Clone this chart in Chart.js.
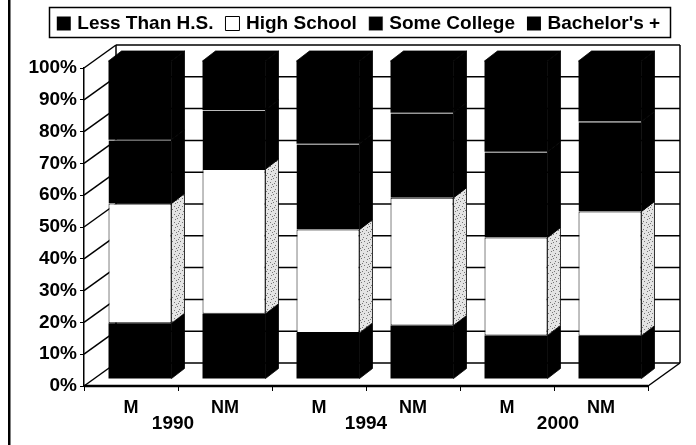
<!DOCTYPE html>
<html>
<head>
<meta charset="utf-8">
<style>
  html, body { margin: 0; padding: 0; background: #fff; }
  #wrap { width: 696px; height: 445px; }
</style>
<script src="https://cdn.jsdelivr.net/npm/chart.js@4"></script>
</head>
<body>
<div id="wrap"><canvas id="eduChart" width="696" height="445"></canvas></div>
<script>
const categories = ['M', 'NM', 'M', 'NM', 'M', 'NM'];
const years = ['1990', '1994', '2000'];
const lessThanHS = [17.5, 20.5, 14.5, 16.8, 13.7, 13.6];
const highSchool = [37.7, 45.5, 32.5, 40.2, 30.8, 39.1];
const someCollege = [20.0, 18.6, 27.0, 26.7, 27.0, 28.3];
const bachelors = [24.8, 15.4, 26.0, 16.3, 28.5, 19.0];

const FONT = { family: '"Liberation Sans", Arial, sans-serif', weight: 'bold', size: 19 };

// wall depth of the fake 3d box, and where the bars sit inside it
const WALL = { dx: 32, dy: -23 };
const BAR_SHIFT = { dx: 9, dy: -7 };
const BAR_DEPTH = { dx: 13, dy: -10 };

function stipple(ctx) {
  const c = document.createElement('canvas');
  c.width = 8;
  c.height = 8;
  const p = c.getContext('2d');
  p.fillStyle = '#e4e4e4';
  p.fillRect(0, 0, 8, 8);
  p.fillStyle = '#777';
  [[0, 1], [3, 0], [6, 2], [2, 4], [5, 5], [1, 6], [7, 7]].forEach(d => p.fillRect(d[0], d[1], 1, 1));
  return ctx.createPattern(c, 'repeat');
}

const box3d = {
  id: 'box3d',
  afterLayout(chart) {
    // legend sits in its own frame above the chart, move it up and right
    chart.legend.top = -1;
    chart.legend.left += 36;
    chart.legend.right += 36;
  },
  beforeDatasetsDraw(chart) {
    const { ctx, chartArea: a, scales: { y } } = chart;
    const line = (x1, y1, x2, y2, w) => {
      ctx.lineWidth = w || 1.5;
      ctx.beginPath();
      ctx.moveTo(x1, y1);
      ctx.lineTo(x2, y2);
      ctx.stroke();
    };
    ctx.save();
    ctx.strokeStyle = '#000';
    y.ticks.forEach(t => {
      const py = y.getPixelForValue(t.value);
      line(a.left, py, a.left + WALL.dx, py + WALL.dy);
      line(a.left + WALL.dx, py + WALL.dy, a.right + WALL.dx, py + WALL.dy);
    });
    line(a.left + WALL.dx, a.top + WALL.dy, a.left + WALL.dx, a.bottom + WALL.dy);
    line(a.right + WALL.dx, a.top + WALL.dy, a.right + WALL.dx, a.bottom + WALL.dy);
    line(a.right, a.bottom, a.right + WALL.dx, a.bottom + WALL.dy);
    line(a.left, a.bottom, a.right, a.bottom, 2.5);
    ctx.restore();

    // bars go slightly behind the front plane
    ctx.save();
    ctx.translate(BAR_SHIFT.dx, BAR_SHIFT.dy);
  },
  afterDatasetsDraw(chart) {
    const { ctx } = chart;
    const dots = stipple(ctx);
    ctx.strokeStyle = '#000';
    ctx.lineWidth = 0.8;
    chart.data.datasets.forEach((ds, i) => {
      chart.getDatasetMeta(i).data.forEach(bar => {
        const r = bar.x + bar.width / 2;
        const l = bar.x - bar.width / 2;
        ctx.fillStyle = ds.backgroundColor === '#fff' ? dots : '#000';
        ctx.beginPath();
        ctx.moveTo(r, bar.y);
        ctx.lineTo(r + BAR_DEPTH.dx, bar.y + BAR_DEPTH.dy);
        ctx.lineTo(r + BAR_DEPTH.dx, bar.base + BAR_DEPTH.dy);
        ctx.lineTo(r, bar.base);
        ctx.closePath();
        ctx.fill();
        // closes the hairline seams between the side panels
        ctx.stroke();
        if (i === chart.data.datasets.length - 1) {
          ctx.fillStyle = '#000';
          ctx.beginPath();
          ctx.moveTo(l, bar.y);
          ctx.lineTo(l + BAR_DEPTH.dx, bar.y + BAR_DEPTH.dy);
          ctx.lineTo(r + BAR_DEPTH.dx, bar.y + BAR_DEPTH.dy);
          ctx.lineTo(r, bar.y);
          ctx.closePath();
          ctx.fill();
          ctx.stroke();
        }
      });
    });
    ctx.restore();
  },
  afterDraw(chart) {
    const { ctx, scales: { x } } = chart;
    ctx.save();
    // page rule on the left
    ctx.fillStyle = '#000';
    ctx.fillRect(8, 0, 2.5, 445);
    // legend frame
    ctx.strokeStyle = '#000';
    ctx.lineWidth = 1.5;
    ctx.strokeRect(49.5, 7.5, 621, 30);
    // year labels under each M / NM pair
    ctx.font = `${FONT.weight} ${FONT.size}px ${FONT.family}`;
    ctx.textAlign = 'center';
    ctx.textBaseline = 'middle';
    const nudge = [-5, 0, 4];
    years.forEach((yr, i) => {
      const mid = (x.getPixelForValue(i * 2) + x.getPixelForValue(i * 2 + 1)) / 2;
      ctx.fillText(yr, mid + nudge[i], 424);
    });
    ctx.restore();
  }
};

const barOpts = { clip: false, barPercentage: 0.67, categoryPercentage: 1, borderSkipped: false };

new Chart(document.getElementById('eduChart').getContext('2d'), {
  type: 'bar',
  data: {
    labels: categories,
    datasets: [
      { label: 'Less Than H.S.', data: lessThanHS, backgroundColor: '#000', borderColor: '#000', borderWidth: 0, ...barOpts },
      { label: 'High School', data: highSchool, backgroundColor: '#fff', borderColor: '#000', borderWidth: 1, ...barOpts },
      { label: 'Some College', data: someCollege, backgroundColor: '#000', borderColor: '#bbb', borderWidth: { top: 1 }, ...barOpts },
      { label: "Bachelor's +", data: bachelors, backgroundColor: '#000', borderColor: '#000', borderWidth: 0, ...barOpts }
    ]
  },
  options: {
    responsive: false,
    animation: false,
    layout: { padding: { top: 24, right: 48, left: 0, bottom: 0 } },
    plugins: {
      tooltip: { enabled: false },
      legend: {
        position: 'top',
        labels: {
          color: '#000',
          font: FONT,
          usePointStyle: true,
          pointStyle: 'rect',
          boxWidth: 8,
          boxHeight: 14,
          padding: 15
        }
      }
    },
    scales: {
      x: {
        stacked: true,
        grid: { drawOnChartArea: false, color: '#000', tickLength: 5, offset: true },
        border: { display: false },
        ticks: { color: '#000', font: { ...FONT, size: 18 }, padding: 6, maxRotation: 0 },
        afterFit(axis) { axis.height = 59; }
      },
      y: {
        stacked: true,
        min: 0,
        max: 100,
        grid: { drawOnChartArea: false, color: '#000', tickLength: 4 },
        border: { display: true, color: '#000', width: 1.5 },
        ticks: { color: '#000', font: FONT, stepSize: 10, padding: 3, callback: v => v + '%' },
        afterFit(axis) { axis.width = 84; }
      }
    }
  },
  plugins: [box3d]
});
</script>
</body>
</html>
